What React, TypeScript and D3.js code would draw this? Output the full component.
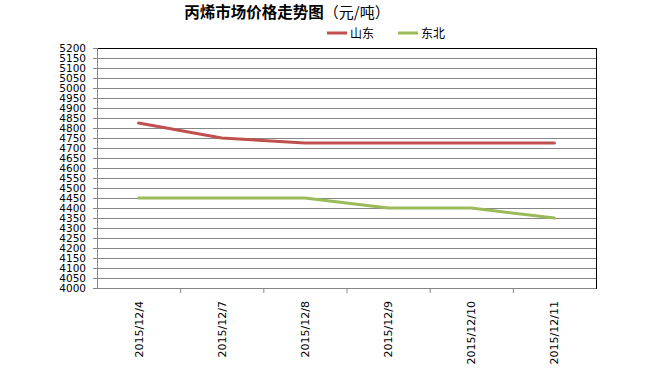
import * as React from "react";
import * as d3 from "d3";

const categories = ["2015/12/4", "2015/12/7", "2015/12/8", "2015/12/9", "2015/12/10", "2015/12/11"];
const shandong = [4825, 4750, 4725, 4725, 4725, 4725];
const dongbei = [4450, 4450, 4450, 4400, 4400, 4350];
const seriesNames = ["山东", "东北"];
const seriesColors = ["#C0504D", "#9BBB59"];
const yTicks = d3.range(4000, 5201, 50);

const width = 654;
const height = 371;
const margin = { top: 48, right: 58, bottom: 83, left: 97 };

const latin = "'DejaVu Sans', Verdana, sans-serif";
const cjk = "'Noto Sans CJK SC', sans-serif";

export default function App() {
  const innerW = width - margin.left - margin.right;
  const innerH = height - margin.top - margin.bottom;

  const x = d3.scaleBand().domain(categories).range([0, innerW]);
  const y = d3.scaleLinear().domain([4000, 5200]).range([innerH, 0]);

  const line = d3
    .line<number>()
    .x((_, i) => (x(categories[i]) ?? 0) + x.bandwidth() / 2)
    .y((d) => y(d));

  const series = [shandong, dongbei];

  return (
    <svg
      width={width}
      height={height}
      style={{ position: "absolute", left: 0, top: 0, background: "#fff" }}
    >
      <text x={287} y={18} textAnchor="middle" fontFamily={cjk} fontSize={15.5}>
        <tspan fontWeight="bold">丙烯市场价格走势图</tspan>
        <tspan fontSize={15}>（元/吨）</tspan>
      </text>

      {seriesNames.map((name, i) => {
        const lx = 327 + i * 71;
        return (
          <g key={name}>
            <line x1={lx} x2={lx + 20} y1={33} y2={33} stroke={seriesColors[i]} strokeWidth={3} />
            <text x={lx + 23} y={37.5} fontFamily={cjk} fontSize={12}>
              {name}
            </text>
          </g>
        );
      })}

      <g transform={`translate(${margin.left},${margin.top})`}>
        {yTicks.map((t) => (
          <g key={t}>
            {t > 4000 && t < 5200 && (
              <line x1={0} x2={innerW} y1={y(t) + 0.5} y2={y(t) + 0.5} stroke="#868686" strokeWidth={1} />
            )}
            <line x1={-4} x2={0} y1={y(t) + 0.5} y2={y(t) + 0.5} stroke="#868686" />
            <text x={-11} y={y(t) + 4} textAnchor="end" fontFamily={latin} fontSize={10.5} fill="#000">
              {t}
            </text>
          </g>
        ))}

        <rect x={0.5} y={0.5} width={innerW} height={innerH} fill="none" stroke="#000" strokeWidth={1} />
        <line x1={0.5} x2={0.5} y1={0} y2={innerH} stroke="#868686" />
        <line x1={0} x2={innerW} y1={innerH + 0.5} y2={innerH + 0.5} stroke="#868686" />

        {categories.map((c, i) => (
          <g key={c}>
            {i > 0 && (
              <line
                x1={(x(c) ?? 0) + 0.5}
                x2={(x(c) ?? 0) + 0.5}
                y1={innerH}
                y2={innerH + 5}
                stroke="#868686"
              />
            )}
            <text
              transform={`translate(${(x(c) ?? 0) + x.bandwidth() / 2 + 4},${innerH + 13}) rotate(-90)`}
              textAnchor="end"
              fontFamily={latin}
              fontSize={11}
            >
              {c}
            </text>
          </g>
        ))}

        {series.map((s, i) => (
          <path
            key={seriesNames[i]}
            d={line(s) ?? ""}
            fill="none"
            stroke={seriesColors[i]}
            strokeWidth={3}
            strokeLinejoin="round"
            strokeLinecap="round"
          />
        ))}
      </g>
    </svg>
  );
}
